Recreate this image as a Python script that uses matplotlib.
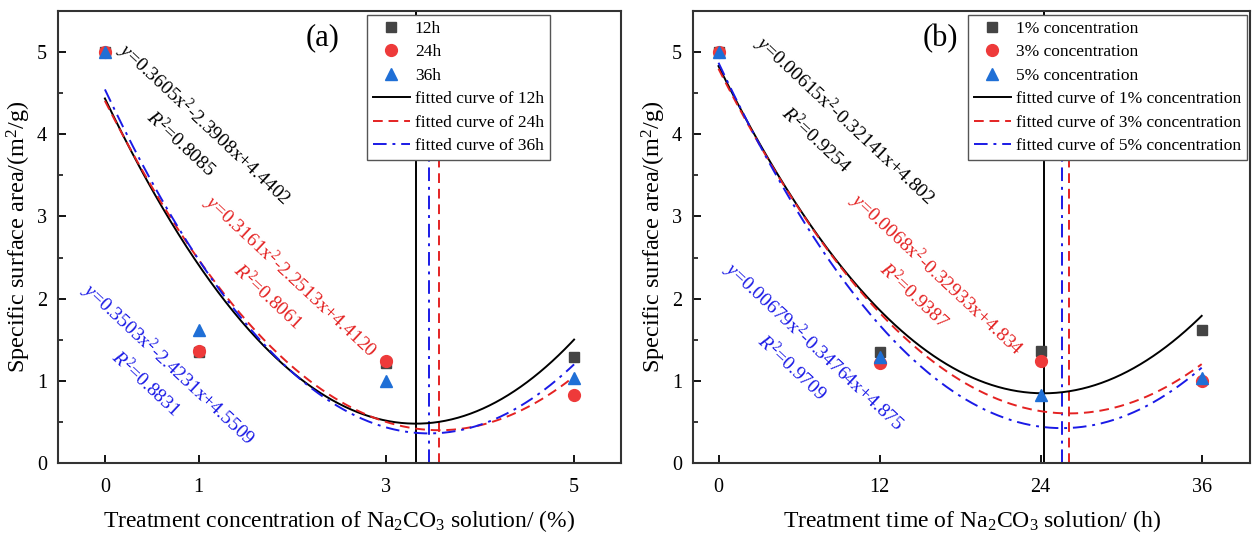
import numpy as np
import matplotlib.pyplot as plt
from matplotlib.ticker import MultipleLocator

plt.rcParams['font.family'] = ['Liberation Serif', 'DejaVu Serif']
plt.rcParams['mathtext.fontset'] = 'custom'
plt.rcParams['mathtext.rm'] = 'Liberation Serif'
plt.rcParams['mathtext.it'] = 'Liberation Serif:italic'

# panel (a): x = concentration (%), one series per treatment time
conc = [0, 1, 3, 5]
sa_12h = [5.00, 1.35, 1.22, 1.29]
sa_24h = [5.00, 1.36, 1.24, 0.83]
sa_36h = [5.00, 1.62, 1.00, 1.03]

# panel (b): x = treatment time (h), one series per concentration
hours = [0, 12, 24, 36]
sa_1pct = [5.00, 1.35, 1.36, 1.62]
sa_3pct = [5.00, 1.22, 1.24, 1.00]
sa_5pct = [5.00, 1.29, 0.83, 1.03]

eq_a = ['$y$=0.3605x$^2$-2.3908x+4.4402', '$y$=0.3161x$^2$-2.2513x+4.4120',
        '$y$=0.3503x$^2$-2.4231x+4.5509']
r2_a = ['$R^2$=0.8085', '$R^2$=0.8061', '$R^2$=0.8831']
eq_b = ['$y$=0.00615x$^2$-0.32141x+4.802', '$y$=0.0068x$^2$-0.32933x+4.834',
        '$y$=0.00679x$^2$-0.34764x+4.875']
r2_b = ['$R^2$=0.9254', '$R^2$=0.9387', '$R^2$=0.9709']

mk_colors = ['#444444', '#ee3a3a', '#1f6fd6']
ln_colors = ['black', '#e42222', '#1a1ae6']
markers = ['s', 'o', '^']
msizes = [7, 8.5, 8.5]
lstyles = ['-', (0, (5, 3)), (0, (7, 3, 1.5, 3))]

fig = plt.figure(figsize=(12.53, 5.34), dpi=100)
ax1 = fig.add_axes([58 / 1253, 71 / 534, 563 / 1253, 452 / 534])
ax2 = fig.add_axes([693 / 1253, 71 / 534, 557 / 1253, 452 / 534])


def draw_panel(ax, x, series, names, fit_names, xmax_fit, eqs, r2s, eq_pos, r2_pos):
    xf = np.linspace(0, xmax_fit, 300)
    for i, y in enumerate(series):
        ax.plot(x, y, ls='none', marker=markers[i], ms=msizes[i],
                color=mk_colors[i], label=names[i], zorder=4)
    for i, y in enumerate(series):
        a, b, c = np.polyfit(x, y, 2)
        ax.plot(xf, a * xf ** 2 + b * xf + c, color=ln_colors[i], ls=lstyles[i],
                lw=1.4, label=fit_names[i], zorder=3)
        ax.axvline(-b / (2 * a), color=ln_colors[i], ls=lstyles[i], lw=1.4, zorder=2)
    for i in range(3):
        ax.text(eq_pos[i][0], eq_pos[i][1], eqs[i], color=ln_colors[i], fontsize=14,
                rotation=-43, rotation_mode='anchor', ha='left', va='center')
        ax.text(r2_pos[i][0], r2_pos[i][1], r2s[i], color=ln_colors[i], fontsize=14,
                rotation=-43, rotation_mode='anchor', ha='left', va='center')
    ax.set_ylim(0, 5.5)
    ax.set_xticks(x)
    ax.yaxis.set_major_locator(MultipleLocator(1))
    ax.yaxis.set_minor_locator(MultipleLocator(0.5))
    ax.tick_params(which='major', direction='in', length=6, width=1.3, labelsize=14.5,
                   pad=8)
    ax.tick_params(which='minor', direction='in', length=3.5, width=1.1)
    ax.tick_params(axis='x', pad=11)
    for s in ax.spines.values():
        s.set_linewidth(1.5)
        s.set_color('#333333')
    ax.set_ylabel('Specific surface area/(m$^2$/g)', fontsize=17.5, labelpad=3)


leg_kw = dict(borderaxespad=0, fontsize=12.5, fancybox=False, edgecolor='#555555',
              framealpha=1, labelspacing=0.42, handlelength=2.1, borderpad=0.35,
              handletextpad=0.3)

draw_panel(ax1, conc, [sa_12h, sa_24h, sa_36h], ['12h', '24h', '36h'],
           ['fitted curve of 12h', 'fitted curve of 24h', 'fitted curve of 36h'], 5,
           eq_a, r2_a,
           [(0.17, 5.06), (1.08, 3.22), (-0.22, 2.15)],
           [(0.47, 4.25), (1.40, 2.38), (0.10, 1.32)])
ax1.set_xlim(-0.5, 5.5)
ax1.set_xlabel('Treatment concentration of Na$_2$CO$_3$ solution/ (%)', fontsize=17,
               labelpad=8)
ax1.text(0.47, 0.94, '(a)', transform=ax1.transAxes, fontsize=22, ha='center',
         va='center')
ax1.legend(loc='upper left', bbox_to_anchor=(0.549, 0.992), **leg_kw)

draw_panel(ax2, hours, [sa_1pct, sa_3pct, sa_5pct],
           ['1% concentration', '3% concentration', '5% concentration'],
           ['fitted curve of 1% concentration', 'fitted curve of 3% concentration',
            'fitted curve of 5% concentration'], 36,
           eq_b, r2_b,
           [(2.9, 5.15), (10.0, 3.24), (0.6, 2.40)],
           [(4.9, 4.30), (12.2, 2.40), (3.1, 1.52)])
ax2.set_xlim(-1.9, 39.6)
ax2.set_xlabel('Treatment time of Na$_2$CO$_3$ solution/ (h)', fontsize=17, labelpad=8)
ax2.text(0.445, 0.94, '(b)', transform=ax2.transAxes, fontsize=22, ha='center',
         va='center')
ax2.legend(loc='upper right', bbox_to_anchor=(0.995, 0.992), **leg_kw)

fig.savefig('out.png', dpi=100)
